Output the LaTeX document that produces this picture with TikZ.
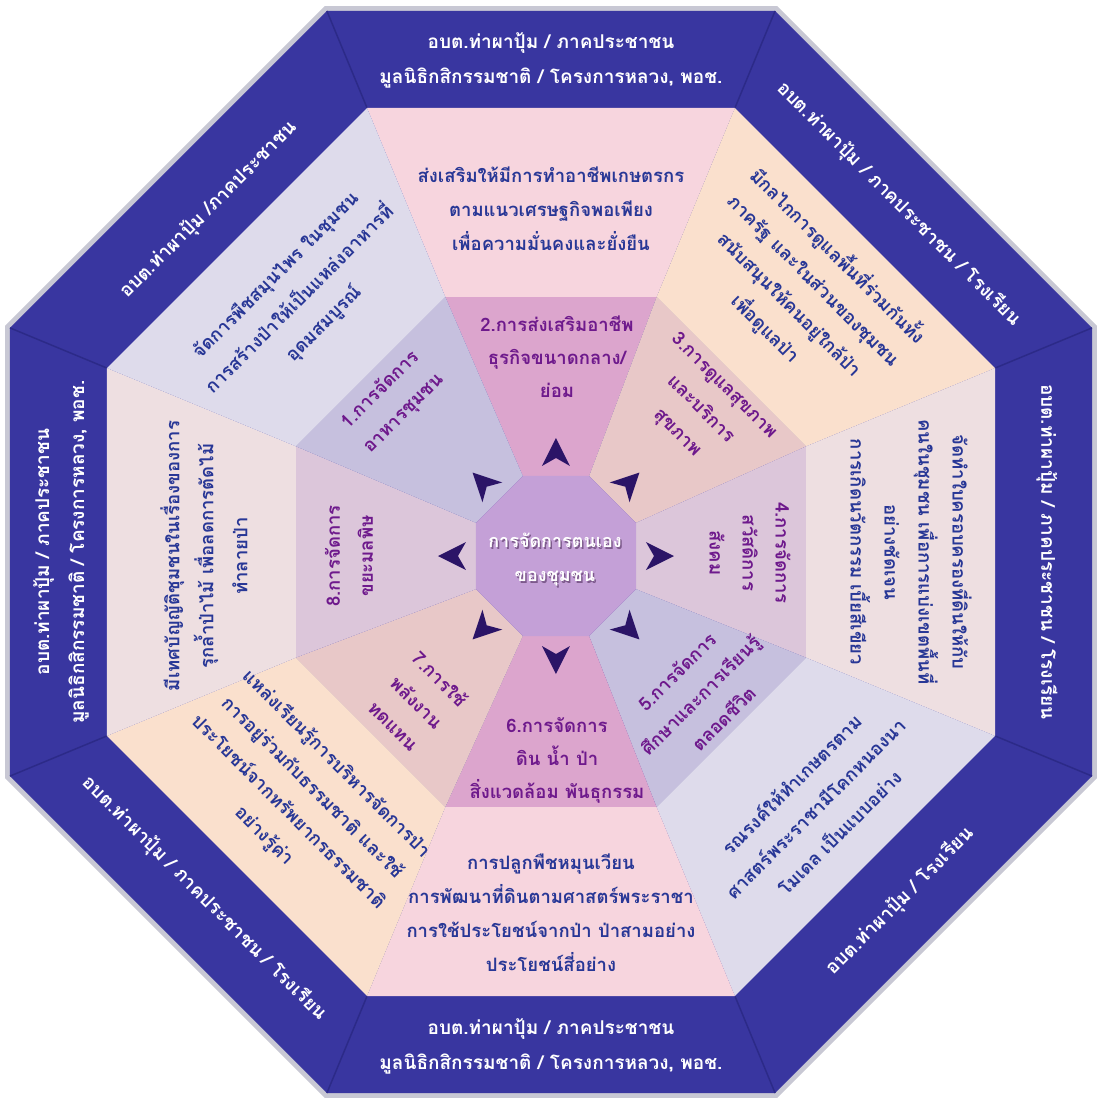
\documentclass[tikz,border=0pt]{standalone}
\usepackage{fontspec}
\newfontfamily\thai[Script=Thai]{Loma}
\usetikzlibrary{calc}
\definecolor{bandblue}{HTML}{3936A0}
\definecolor{seam}{HTML}{2C2A88}
\definecolor{bord}{HTML}{C8C8D4}
\definecolor{mA}{HTML}{F7D5DE}
\definecolor{mB}{HTML}{FAE0CD}
\definecolor{mC}{HTML}{EEDFE1}
\definecolor{mD}{HTML}{DEDBEB}
\definecolor{iA}{HTML}{DCA5CD}
\definecolor{iB}{HTML}{E8C8C8}
\definecolor{iC}{HTML}{DCC6DA}
\definecolor{iD}{HTML}{C6C0DE}
\definecolor{hubc}{HTML}{C4A0D7}
\definecolor{midblue}{HTML}{283796}
\definecolor{inpurple}{HTML}{6E198C}
\definecolor{arrowc}{HTML}{2B1467}
\definecolor{shadowc}{HTML}{7D5A8C}
\begin{document}
\begin{tikzpicture}[x=1pt,y=1pt,
  bandtxt/.style={text=white, font=\thai\bfseries\fontsize{19}{35}\selectfont, align=center, inner sep=0pt},
  midtxt/.style={text=midblue, font=\thai\bfseries\fontsize{18.5}{34}\selectfont, align=center, inner sep=0pt},
  intxt/.style={text=inpurple, font=\thai\bfseries\fontsize{18.5}{33}\selectfont, align=center, inner sep=0pt},
  centxt/.style={font=\thai\bfseries\fontsize{18}{34}\selectfont, align=center, inner sep=0pt}]
\useasboundingbox[fill=white] (-551,-549) rectangle (550,552);
\coordinate (hub) at (5,-4);
% outer border and blue band
\fill[bord] (22.5:591) -- (67.5:591) -- (112.5:591) -- (157.5:591) -- (202.5:591) -- (247.5:591) -- (292.5:591) -- (337.5:591) -- cycle;
\fill[bandblue] (22.5:585.6) -- (67.5:585.6) -- (112.5:585.6) -- (157.5:585.6) -- (202.5:585.6) -- (247.5:585.6) -- (292.5:585.6) -- (337.5:585.6) -- cycle;
\foreach \k in {0,...,7}
  \draw[seam, line width=1.5pt] (22.5+45*\k:480.6) -- (22.5+45*\k:585.6);
% middle ring
\foreach \t/\c in {90/mA,45/mB,0/mC,-45/mD,-90/mA,-135/mB,180/mC,135/mD}
  \fill[\c] (\t-22.5:276) -- (\t+22.5:276) -- (\t+22.5:480.6) -- (\t-22.5:480.6) -- cycle;
% inner ring
\foreach \t/\c in {90/iA,45/iB,0/iC,-45/iD,-90/iA,-135/iB,180/iC,135/iD}
  \fill[\c] ($(hub)+(\t-22.5:86.6)$) -- ($(hub)+(\t+22.5:86.6)$) -- (\t+22.5:276) -- (\t-22.5:276) -- cycle;
% hub
\fill[hubc, shift={(hub)}] (22.5:86.6) -- (67.5:86.6) -- (112.5:86.6) -- (157.5:86.6) -- (202.5:86.6) -- (247.5:86.6) -- (292.5:86.6) -- (337.5:86.6) -- cycle;
% arrowheads
\foreach \t in {90,45,0,-45,-90,-135,180,135}
  \fill[arrowc, shift={(hub)}, rotate=\t] (118,0) -- (90,14) -- (98,0) -- (90,-14) -- cycle;
% band texts
\node[bandtxt] (b1) at (0,492) {อบต.ท่าผาปุ้ม / ภาคประชาชน\\มูลนิธิกสิกรรมชาติ / โครงการหลวง, พอช.};
\node[bandtxt, rotate=-45] (b2) at (45:492) {อบต.ท่าผาปุ้ม / ภาคประชาชน / โรงเรียน};
\node[bandtxt, rotate=-90] (b3) at (0:496) {อบต.ท่าผาปุ้ม / ภาคประชาชน / โรงเรียน};
\node[bandtxt, rotate=45] (b4) at (-45:494) {อบต.ท่าผาปุ้ม / โรงเรียน};
\node[bandtxt] (b5) at (0,-494) {อบต.ท่าผาปุ้ม / ภาคประชาชน\\มูลนิธิกสิกรรมชาติ / โครงการหลวง, พอช.};
\node[bandtxt, rotate=-45] (b6) at (-135:490) {อบต.ท่าผาปุ้ม / ภาคประชาชน / โรงเรียน};
\node[bandtxt, rotate=90] (b7) at (180:490) {อบต.ท่าผาปุ้ม / ภาคประชาชน\\มูลนิธิกสิกรรมชาติ / โครงการหลวง, พอช.};
\node[bandtxt, rotate=45] (b8) at (135:484) {อบต.ท่าผาปุ้ม /ภาคประชาชน};
% middle texts
\node[midtxt] (m1) at (0,343) {ส่งเสริมให้มีการทำอาชีพเกษตรกร\\ตามแนวเศรษฐกิจพอเพียง\\เพื่อความมั่นคงและยั่งยืน};
\node[midtxt, rotate=-45] (m2) at (251,260) {มีกลไกการดูแลพื้นที่ร่วมกันทั้ง\\ภาครัฐ และในส่วนของชุมชน\\สนับสนุนให้คนอยู่ใกล้ป่า\\เพื่อดูแลป่า};
\node[midtxt, rotate=-90] (m3) at (360,0) {จัดทำใบครอบครองที่ดินให้กับ\\คนในชุมชน เพื่อการแบ่งเขตพื้นที่\\อย่างชัดเจน\\การเกิดนวัตกรรม เบี้ยสีเขียว};
\node[midtxt, rotate=45] (m4) at (264,-256) {รณรงค์ให้ทำเกษตรตาม\\ศาสตร์พระราชามีโคกหนองนา\\โมเดล เป็นแบบอย่าง};
\node[midtxt] (m5) at (0,-361) {การปลูกพืชหมุนเวียน\\การพัฒนาที่ดินตามศาสตร์พระราชา\\การใช้ประโยชน์จากป่า ป่าสามอย่าง\\ประโยชน์สี่อย่าง};
\node[midtxt, rotate=-45] (m6) at (-251,-248) {แหล่งเรียนรู้การบริหารจัดการป่า\\การอยู่ร่วมกับธรรมชาติ และใช้\\ประโยชน์จากทรัพยากรธรรมชาติ\\อย่างรู้ค่า};
\node[midtxt, rotate=90] (m7) at (-347,-4) {มีเทศบัญญัติชุมชนในเรื่องของการ\\รุกล้ำป่าไม้ เพื่อลดการตัดไม้\\ทำลายป่า};
\node[midtxt, rotate=45] (m8) at (-251,252) {จัดการพืชสมุนไพร ในชุมชน\\การสร้างป่าให้เป็นแหล่งอาหารที่\\อุดมสมบูรณ์};
% inner texts
\node[intxt, rotate=45] (i1) at (-159,150) {1.การจัดการ\\อาหารชุมชน};
\node[intxt] (i2) at (6,195) {2.การส่งเสริมอาชีพ\\ธุรกิจขนาดกลาง/\\ย่อม};
\node[intxt, rotate=-45] (i3) at (149,142) {3.การดูแลสุขภาพ\\และบริการ\\สุขภาพ};
\node[intxt, rotate=-90] (i4) at (199,-1) {4.การจัดการ\\สวัสดิการ\\สังคม};
\node[intxt, rotate=45] (i5) at (149,-143) {5.การจัดการ\\ศึกษาและการเรียนรู้\\ตลอดชีวิต};
\node[intxt] (i6) at (6,-208) {6.การจัดการ\\ดิน น้ำ ป่า\\สิ่งแวดล้อม พันธุกรรม};
\node[intxt, rotate=-45] (i7) at (-134,-150) {7.การใช้\\พลังงาน\\ทดแทน};
\node[intxt, rotate=90] (i8) at (-202,-4) {8.การจัดการ\\ขยะมลพิษ};
% centre
\node[centxt, text=shadowc] (cs) at (5.5,-9.5) {การจัดการตนเอง\\ของชุมชน};
\node[centxt, text=white] (c) at (4,-8) {การจัดการตนเอง\\ของชุมชน};
\end{tikzpicture}
\end{document}
